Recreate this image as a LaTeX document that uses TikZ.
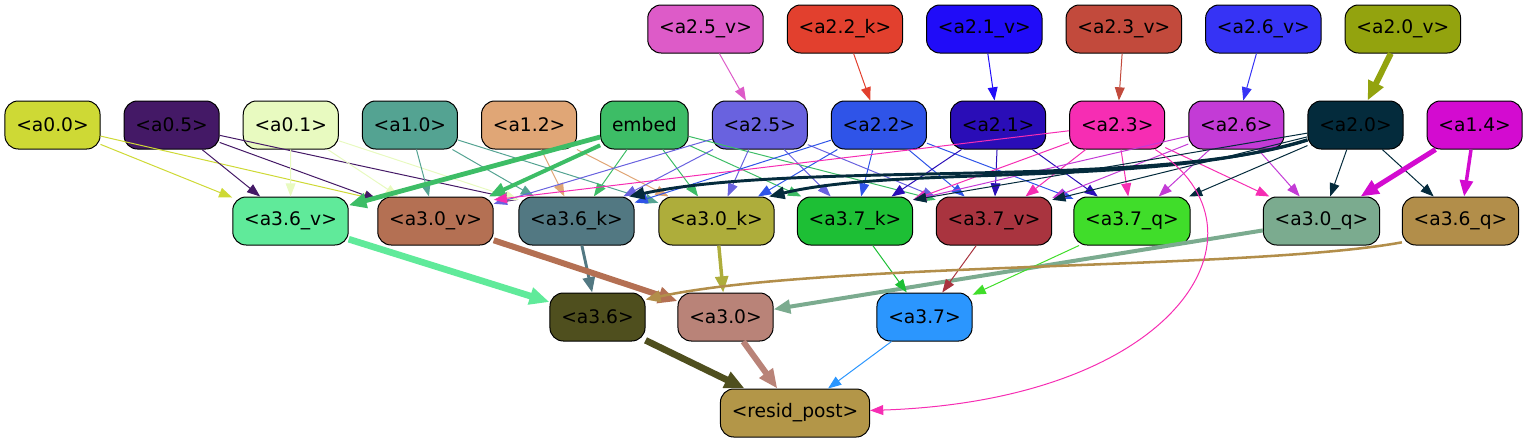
\documentclass[tikz,border=0pt]{standalone}
\usepackage{fontspec}
\setmainfont{DejaVu Sans}
\usetikzlibrary{positioning,arrows.meta}

\definecolor{ca25v}{HTML}{DD5BC8}
\definecolor{ca22k}{HTML}{E2402E}
\definecolor{ca21v}{HTML}{200CF8}
\definecolor{ca23v}{HTML}{C24A3C}
\definecolor{ca26v}{HTML}{3633F5}
\definecolor{ca20v}{HTML}{93A30E}
\definecolor{ca00}{HTML}{CED935}
\definecolor{ca05}{HTML}{441966}
\definecolor{ca01}{HTML}{E8FAC0}
\definecolor{ca10}{HTML}{54A392}
\definecolor{ca12}{HTML}{E0A676}
\definecolor{cemb}{HTML}{3DBD66}
\definecolor{ca25}{HTML}{6962DF}
\definecolor{ca22}{HTML}{2F54E8}
\definecolor{ca21}{HTML}{2A0DB7}
\definecolor{ca23}{HTML}{F62DB3}
\definecolor{ca26}{HTML}{C33BD6}
\definecolor{ca20}{HTML}{042B3C}
\definecolor{ca14}{HTML}{D30BD0}
\definecolor{ca36v}{HTML}{60EA9A}
\definecolor{ca30v}{HTML}{B47053}
\definecolor{ca36k}{HTML}{527882}
\definecolor{ca30k}{HTML}{AEAD3B}
\definecolor{ca37k}{HTML}{1DBF35}
\definecolor{ca37v}{HTML}{A9343F}
\definecolor{ca37q}{HTML}{40DD2A}
\definecolor{ca30q}{HTML}{7BAB8F}
\definecolor{ca36q}{HTML}{B28E4A}
\definecolor{ca36}{HTML}{4F4F1E}
\definecolor{ca30}{HTML}{B98378}
\definecolor{ca37}{HTML}{2B96FE}
\definecolor{cres}{HTML}{B39648}

\begin{document}
\begin{tikzpicture}[x=0.75pt, y=-0.75pt, font=\fontsize{14pt}{16pt}\selectfont] %Circuit
            \tikzstyle{box} = [draw, rounded corners=10pt, minimum height=36pt, inner xsep=8.5pt, line width=0.75pt, text=black]
            \tikzstyle{edge} = [-{Triangle[length=9pt 1.2, width=6.5pt 1.2]}]
            \useasboundingbox (0,0) rectangle (1529,443);
            % top row
            \node[box, fill=ca25v] (a25v) at (705.5,29) {<a2.5\_v>};
            \node[box, fill=ca22k, right=17.3pt of a25v] (a22k) {<a2.2\_k>};
            \node[box, fill=ca21v, right=17.3pt of a22k] (a21v) {<a2.1\_v>};
            \node[box, fill=ca23v, right=17.3pt of a21v] (a23v) {<a2.3\_v>};
            \node[box, fill=ca26v, right=17.3pt of a23v] (a26v) {<a2.6\_v>};
            \node[box, fill=ca20v, right=17.3pt of a26v] (a20v) {<a2.0\_v>};
            % second row
            \node[box, fill=ca00] (a00) at (52.5,125) {<a0.0>};
            \node[box, fill=ca05, right=17.3pt of a00] (a05) {<a0.5>};
            \node[box, fill=ca01, right=17.3pt of a05] (a01) {<a0.1>};
            \node[box, fill=ca10, right=17.3pt of a01] (a10) {<a1.0>};
            \node[box, fill=ca12, right=17.3pt of a10] (a12) {<a1.2>};
            \node[box, fill=cemb, right=17.3pt of a12] (emb) {embed};
            \node[box, fill=ca25, right=17.3pt of emb] (a25) {<a2.5>};
            \node[box, fill=ca22, right=17.3pt of a25] (a22) {<a2.2>};
            \node[box, fill=ca21, right=17.3pt of a22] (a21) {<a2.1>};
            \node[box, fill=ca23, right=17.3pt of a21] (a23) {<a2.3>};
            \node[box, fill=ca26, right=17.3pt of a23] (a26) {<a2.6>};
            \node[box, fill=ca20, right=17.3pt of a26] (a20) {<a2.0>};
            \node[box, fill=ca14, right=17.3pt of a20] (a14) {<a1.4>};
            % third row
            \node[box, fill=ca36v] (a36v) at (290.5,221) {<a3.6\_v>};
            \node[box, fill=ca30v] (a30v) at (435.5,221) {<a3.0\_v>};
            \node[box, fill=ca36k] (a36k) at (576.5,221) {<a3.6\_k>};
            \node[box, fill=ca30k] (a30k) at (716.5,221) {<a3.0\_k>};
            \node[box, fill=ca37k] (a37k) at (855,221) {<a3.7\_k>};
            \node[box, fill=ca37v] (a37v) at (994,221) {<a3.7\_v>};
            \node[box, fill=ca37q] (a37q) at (1132,221) {<a3.7\_q>};
            \node[box, fill=ca30q] (a30q) at (1321.5,221) {<a3.0\_q>};
            \node[box, fill=ca36q] (a36q) at (1460.5,221) {<a3.6\_q>};
            % fourth row
            \node[box, fill=ca36] (a36) at (597.5,317) {<a3.6>};
            \node[box, fill=ca30] (a30) at (725.5,317) {<a3.0>};
            \node[box, fill=ca37] (a37) at (924.5,317) {<a3.7>};
            \node[box, fill=cres] (res) at (795,413) {<resid\_post>};
            % straight connectors: source/target/width
            \foreach \s/\t/\w in {a25v/a25/0.75, a22k/a22/0.75, a21v/a21/0.75, a23v/a23/0.75, a26v/a26/0.75, a20v/a20/4.5,
                a00/a36v/0.75, a00/a30v.160/0.75,
                a05/a36v/0.75, a05/a30v/0.75, a05/a36k.160/0.75,
                a01/a36v/0.75, a01/a30v/0.75, a01/a36k.160/0.75,
                a10/a30v/0.75, a10/a36k/0.75, a10/a30k/0.75,
                a12/a36k/0.75, a12/a30k/0.75,
                emb/a36v/3.6, emb/a30v/3, emb/a36k/0.75, emb/a30k/0.75, emb/a37k/0.75, emb/a37v.160/0.75,
                a25/a30v/0.75, a25/a36k/0.75, a25/a30k/0.75, a25/a37k/0.75, a25/a37v/0.75,
                a22/a36k/0.75, a22/a30k/0.75, a22/a37k/0.75, a22/a37v/0.75, a22/a37q/0.75,
                a21/a37k/0.75, a21/a37v/0.75, a21/a37q/0.75,
                a23/a30v.20/0.75, a23/a37k/0.75, a23/a37v/0.75, a23/a37q/0.75, a23/a30q/0.75,
                a26/a37k.20/0.75, a26/a37v/0.75, a26/a37q/0.75, a26/a30q/0.75,
                a20/a37k.20/0.75, a20/a37v.20/0.75, a20/a37q/0.75, a20/a30q/0.75, a20/a36q/0.75,
                a14/a30q/3.8, a14/a36q/2.6,
                a36v/a36/5, a36k/a36/2.2, a30v/a30/4.5, a30k/a30/2.6, a30q/a30/3,
                a37k/a37/0.75, a37v/a37/0.75, a37q/a37/0.75,
                a36/res/5, a30/res/4.5, a37/res/0.75}
            {
				\draw[edge, draw=c\s, line width=\w pt] (\s) -- (\t);
			}
            % curved connectors
            \draw[edge, draw=ca20, line width=2.2pt] (a20) .. controls (1150,190) and (800,160) .. (a36k.25);
            \draw[edge, draw=ca20, line width=2.2pt] (a20) .. controls (1150,188) and (900,165) .. (a30k.25);
            \draw[edge, draw=ca36q, line width=1.9pt] (a36q.200) .. controls (1250,270) and (820,262) .. (a36.20);
            \draw[edge, draw=ca23, line width=0.75pt] (a23) .. controls (1280,230) and (1180,400) .. (res);
        			\end{tikzpicture}
\end{document}
